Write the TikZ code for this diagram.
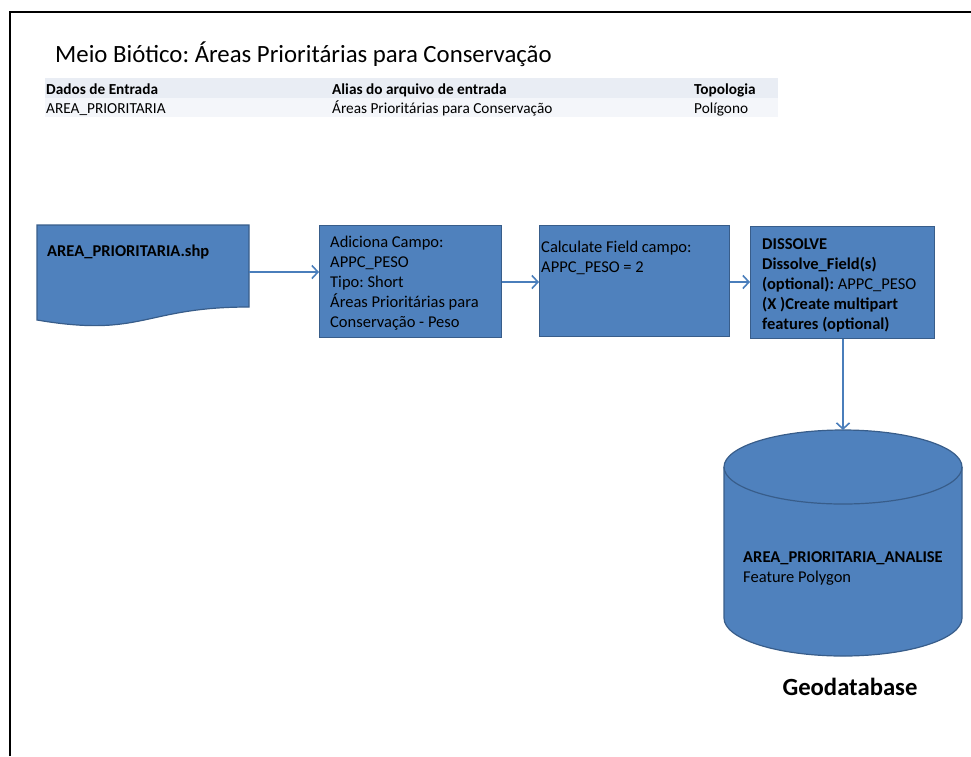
\documentclass[tikz,border=0pt]{standalone}
\usepackage{fontspec}
\setmainfont{Carlito}
\frenchspacing
\usetikzlibrary{arrows.meta}
\definecolor{boxfill}{HTML}{4F81BD}
\definecolor{boxline}{HTML}{385D8A}
\definecolor{arrowc}{HTML}{4A7EBB}
\definecolor{rowA}{HTML}{E9EDF4}
\definecolor{rowB}{HTML}{F4F6FA}
\tikzset{
  shape box/.style={fill=boxfill, draw=boxline, line width=1.2pt},
  boxtext/.style={anchor=north west, align=left, inner sep=0pt, font=\fontsize{16.5}{20}\selectfont},
  cell/.style={anchor=base west, inner sep=0pt, font=\fontsize{15.3}{17}\selectfont},
  flow/.style={draw=arrowc, line width=1.6pt, -{Straight Barb[length=6pt,width=13pt,line width=1.6pt]}},
}
\begin{document}
\begin{tikzpicture}[x=1pt,y=-1pt]
\useasboundingbox (0,0) rectangle (971,756);
% frame
\draw[line width=1.3pt] (10,756) -- (10,12) -- (971,12);
% title
\node[anchor=base west, inner sep=0pt, font=\fontsize{24.8}{28}\selectfont] (title) at (55,62) {Meio Biótico: Áreas Prioritárias para Conservação};
% table
\fill[rowA] (45,78) rectangle (778,98);
\fill[rowB] (45,98) rectangle (778,117);
\node[cell, font=\fontsize{15.3}{17}\selectfont\bfseries] (h1) at (46,94) {Dados de Entrada};
\node[cell, font=\fontsize{15.3}{17}\selectfont\bfseries] (h2) at (332,94) {Alias do arquivo de entrada};
\node[cell, font=\fontsize{15.3}{17}\selectfont\bfseries] (h3) at (694,94) {Topologia};
\node[cell] (c1) at (46,113) {AREA\_PRIORITARIA};
\node[cell] (c2) at (332,113) {Áreas Prioritárias para Conservação};
\node[cell] (c3) at (694,113) {Polígono};
% document shape
\path[shape box] (37,225) -- (249,225) -- (249,307) .. controls (143,307) and (143,338) .. (37,320) -- cycle;
\coordinate (docE) at (249,272);
\node[boxtext, font=\fontsize{16.5}{20}\selectfont\bfseries] (doc) at (47,245) {AREA\_PRIORITARIA.shp};
% box 2
\node[shape box, minimum width=182pt, minimum height=112pt, anchor=north west, inner sep=0pt] (b2) at (319,225) {};
\node[boxtext] (t2) at (330,236) {Adiciona Campo:\\APPC\_PESO\\Tipo: Short\\Áreas Prioritárias para\\Conservação - Peso};
% box 3
\node[shape box, minimum width=190pt, minimum height=111pt, anchor=north west, inner sep=0pt] (b3) at (539,225) {};
\node[boxtext] (t3) at (541,241) {Calculate Field campo:\\APPC\_PESO = 2};
% box 4
\node[shape box, minimum width=184pt, minimum height=112pt, anchor=north west, inner sep=0pt] (b4) at (750,226) {};
\node[boxtext] (t4) at (762,238) {\textbf{DISSOLVE}\\\textbf{Dissolve\_Field(s)}\\\textbf{(optional):} APPC\_PESO\\\textbf{(X )Create multipart}\\\textbf{features (optional)}};
% cylinder
\path[shape box] (724,467) -- (724,618) arc[start angle=180, end angle=360, x radius=119pt, y radius=38pt] -- (962,467) arc[start angle=0, end angle=180, x radius=119pt, y radius=37pt] -- cycle;
\draw[boxline, line width=1.2pt] (724,467) arc[start angle=180, end angle=360, x radius=119pt, y radius=37pt];
\coordinate (cylTop) at (843,430);
\node[boxtext] (t5) at (743,551) {\textbf{AREA\_PRIORITARIA\_ANALISE}\\Feature Polygon};
\node[anchor=base, inner sep=0pt, font=\fontsize{24.7}{28}\selectfont\bfseries] (geo) at (850,695) {Geodatabase};
% connectors
\draw[flow] (docE) -- (b2.west |- docE);
\draw[flow] (b2.east |- 0,282) -- (b3.west |- 0,282);
\draw[flow] (b3.east |- 0,282) -- (b4.west |- 0,282);
\draw[flow] (b4.south -| cylTop) -- (cylTop);
\end{tikzpicture}
\end{document}
